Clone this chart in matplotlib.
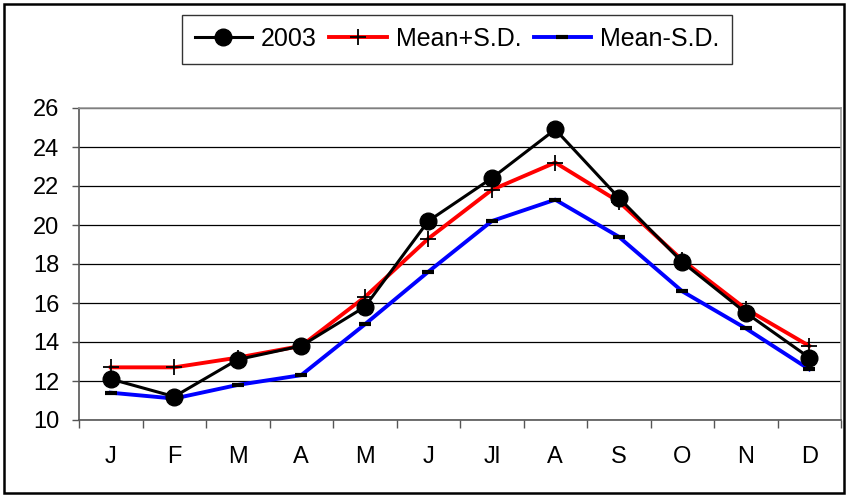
import numpy as np
import matplotlib
matplotlib.use("Agg")
import matplotlib.pyplot as plt
from matplotlib.patches import Rectangle

plt.rcParams['font.family'] = ['Liberation Sans', 'DejaVu Sans']

# months and monthly values
months = ['J', 'F', 'M', 'A', 'M', 'J', 'Jl', 'A', 'S', 'O', 'N', 'D']
y2003 = [12.1, 11.2, 13.1, 13.8, 15.8, 20.2, 22.4, 24.9, 21.4, 18.1, 15.5, 13.2]
mean_plus_sd = [12.7, 12.7, 13.2, 13.8, 16.3, 19.3, 21.8, 23.2, 21.2, 18.2, 15.7, 13.8]
mean_minus_sd = [11.4, 11.1, 11.8, 12.3, 14.9, 17.6, 20.2, 21.3, 19.4, 16.6, 14.7, 12.6]

fig = plt.figure(figsize=(8.48, 4.97), dpi=100)
ax = fig.add_axes([79 / 848, 1 - 420 / 497, (841 - 79) / 848, (420 - 108) / 497])

x = np.arange(len(months))
ax.plot(x, mean_plus_sd, color='red', lw=2.8, marker='+', ms=12, mec='black', mew=1.3,
        label='Mean+S.D.', zorder=3)
ax.plot(x, mean_minus_sd, color='blue', lw=2.8, marker='_', ms=8, mec='black', mew=3,
        label='Mean-S.D.', zorder=3)
ax.plot(x, y2003, color='black', lw=2.2, marker='o', ms=12, mfc='black', mec='black',
        label='2003', zorder=4)

ax.set_xlim(-0.5, 11.5)
ax.set_ylim(10, 26)
ax.set_yticks(np.arange(10, 27, 2))
ax.yaxis.grid(True, color='black', lw=0.9)
ax.set_axisbelow(True)

ax.set_xticks(x)
ax.set_xticklabels(months)
ax.set_xticks(np.arange(-0.5, 12, 1), minor=True)
ax.tick_params(axis='x', which='major', length=0, pad=19, labelsize=17)
ax.tick_params(axis='x', which='minor', length=6, width=1, color='#555555', direction='out')
ax.tick_params(axis='y', length=5, width=1, color='#555555', pad=9, labelsize=17)

for s in ['top', 'right']:
    ax.spines[s].set_color('#999999')
    ax.spines[s].set_linewidth(1.2)
for s in ['left', 'bottom']:
    ax.spines[s].set_color('#555555')
    ax.spines[s].set_linewidth(1.2)

handles, labels = ax.get_legend_handles_labels()
order = [2, 0, 1]
leg = fig.legend([handles[i] for i in order], [labels[i] for i in order],
                 loc='center', bbox_to_anchor=(457 / 848, 1 - 39 / 497), ncol=3,
                 fontsize=18, frameon=True, fancybox=False, handlelength=2.3,
                 handletextpad=0.35, columnspacing=0.5, borderpad=0.5,
                 borderaxespad=0)
leg.get_frame().set_edgecolor('black')
leg.get_frame().set_linewidth(1.0)

fig.patches.append(Rectangle((4 / 848, 4 / 497), 840 / 848, 489 / 497,
                             transform=fig.transFigure, fill=False,
                             edgecolor='black', lw=1.8))

fig.savefig('out.png', dpi=100)
